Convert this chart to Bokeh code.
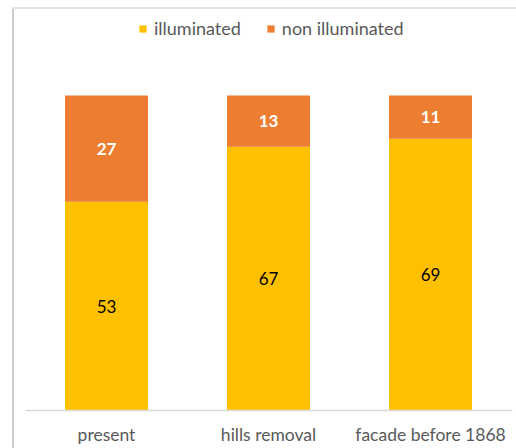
from bokeh.plotting import figure
from bokeh.models import ColumnDataSource, Legend, LegendItem
from bokeh.core.properties import value
from bokeh.embed import file_html
from bokeh.resources import INLINE

categories = ["present", "hills removal", "facade before 1868"]
illuminated = [53, 67, 69]
non_illuminated = [27, 13, 11]
series_names = ["illuminated", "non illuminated"]
colors = ["#FFC000", "#ED7D31"]

W, H = 516, 448
base_px = 410.0          # pixel row of value 0
px_x = 162.0             # pixels per category step
px_y = 315.0 / 80.0      # pixels per value unit
x0 = -106.0 / px_x
x1 = x0 + W / px_x
y0 = -(H - base_px) / px_y
y1 = base_px / px_y

def X(px):
    return x0 + px / px_x

def Y(py):
    return (base_px - py) / px_y

xs = list(range(len(categories)))
src = ColumnDataSource(dict(
    x=xs,
    cat=categories,
    top_ill=illuminated,
    top_all=[a + b for a, b in zip(illuminated, non_illuminated)],
    mid_ill=[a / 2 for a in illuminated],
    mid_non=[a + b / 2 for a, b in zip(illuminated, non_illuminated)],
    lab_ill=[str(v) for v in illuminated],
    lab_non=[str(v) for v in non_illuminated],
))

p = figure(width=W, height=H, output_backend="svg", toolbar_location=None,
           x_range=(x0, x1), y_range=(y0, y1),
           min_border=0, x_axis_type=None, y_axis_type=None)
p.outline_line_color = None
p.grid.visible = False
p.background_fill_color = "white"
p.border_fill_color = "white"

FONT = "Lato"
bw = 83.0 / px_x
r1 = p.vbar(x="x", bottom=0, top="top_ill", width=bw, source=src,
            fill_color=colors[0], line_color=None)
r2 = p.vbar(x="x", bottom="top_ill", top="top_all", width=bw, source=src,
            fill_color=colors[1], line_color=None)

p.text(x="x", y="mid_ill", text="lab_ill", source=src, text_align="center",
       text_baseline="middle", text_font=value(FONT), text_font_size="17px",
       text_color="#000000")
p.text(x="x", y="mid_non", text="lab_non", source=src, text_align="center",
       text_baseline="middle", text_font=value(FONT), text_font_size="17px",
       text_font_style="bold", text_color="#FFFFFF")

# category labels
p.text(x="x", y=Y(434), text="cat", source=src, text_align="center",
       text_baseline="middle", text_font=value(FONT), text_font_size="17.5px",
       text_color="#595959")

# baseline
p.segment(x0=X(25), y0=0, x1=X(512), y1=0, line_color="#d9d9d9", line_width=1.5)
# chart border (left and top)
p.segment(x0=X(12.5), y0=Y(7), x1=X(12.5), y1=Y(H + 2), line_color="#cccccc", line_width=2)
p.segment(x0=X(12), y0=Y(7.5), x1=X(W + 2), y1=Y(7.5), line_color="#e3e3e3", line_width=2)

legend = Legend(items=[LegendItem(label=series_names[0], renderers=[r1]),
                       LegendItem(label=series_names[1], renderers=[r2])],
                orientation="horizontal", location=(138, 409),
                label_text_font=FONT, label_text_font_size="18px",
                label_text_color="#595959", glyph_width=9, glyph_height=9,
                label_standoff=7, spacing=25, padding=0, margin=0,
                border_line_color=None, background_fill_alpha=0)
p.add_layout(legend)

open("out.html", "w").write(file_html(p, INLINE))
